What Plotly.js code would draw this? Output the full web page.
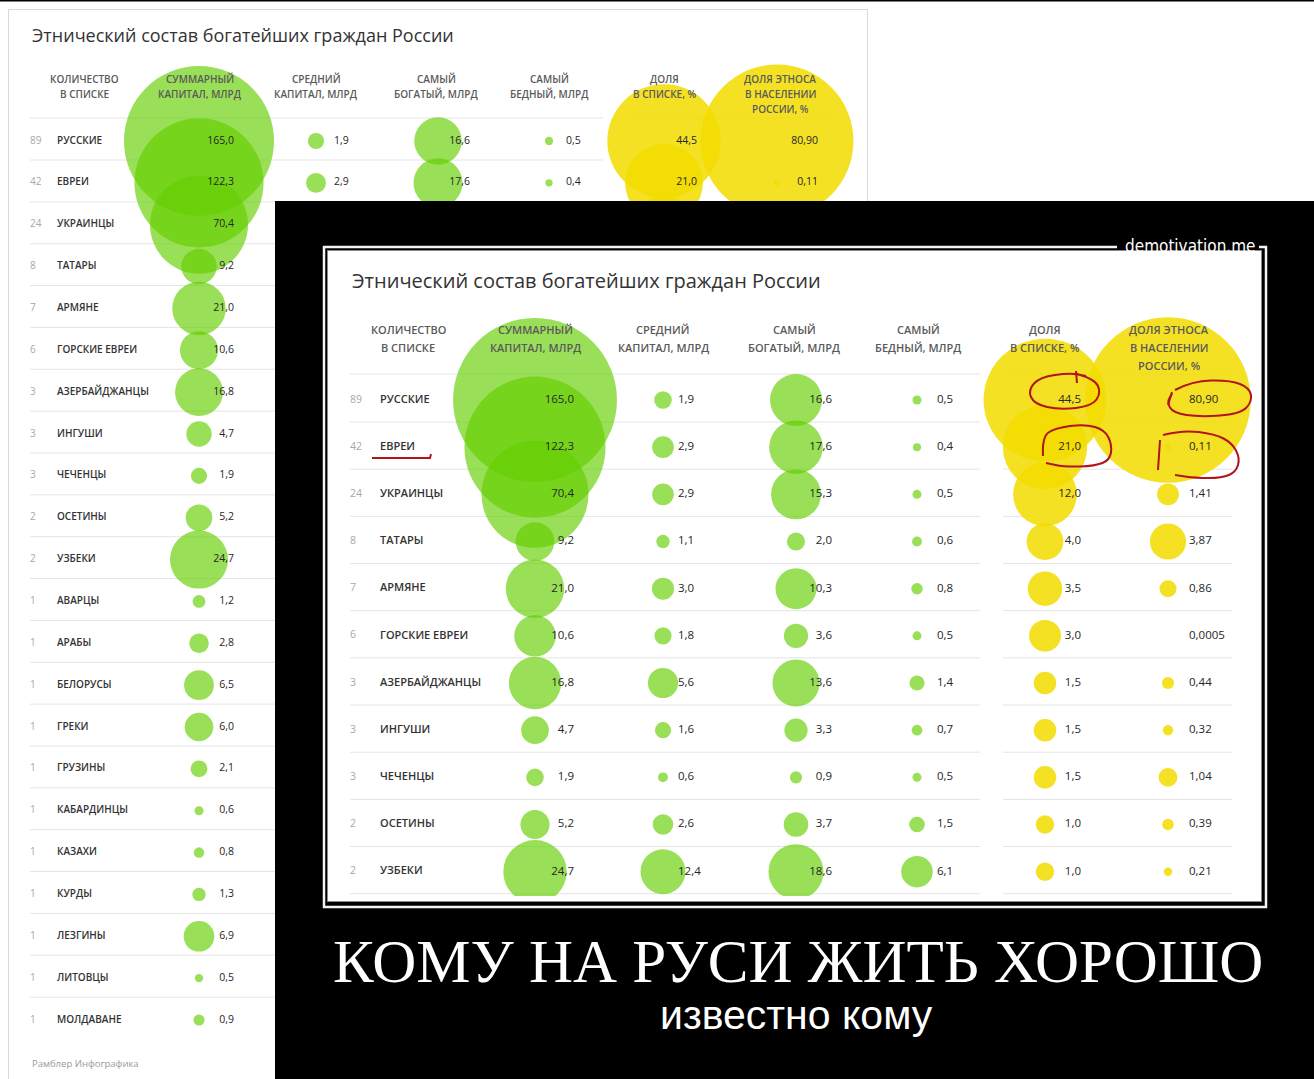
<!DOCTYPE html>
<html><head><meta charset="utf-8">
<script src="https://cdn.plot.ly/plotly-3.0.1.min.js"></script>
<style>
body{margin:0;background:#fff;}
#back,#front{position:absolute;left:0;top:0;width:1314px;height:1079px;}
</style>
</head><body>
<div id="back"></div><div id="front"></div>
<script>
// ---------- DATA ----------
const names = ['РУССКИЕ','ЕВРЕИ','УКРАИНЦЫ','ТАТАРЫ','АРМЯНЕ','ГОРСКИЕ ЕВРЕИ','АЗЕРБАЙДЖАНЦЫ','ИНГУШИ','ЧЕЧЕНЦЫ','ОСЕТИНЫ','УЗБЕКИ',
  'АВАРЦЫ','АРАБЫ','БЕЛОРУСЫ','ГРЕКИ','ГРУЗИНЫ','КАБАРДИНЦЫ','КАЗАХИ','КУРДЫ','ЛЕЗГИНЫ','ЛИТОВЦЫ','МОЛДАВАНЕ'];
const counts = [89,42,24,8,7,6,3,3,3,2,2,1,1,1,1,1,1,1,1,1,1,1];
const totalCapital = [165.0,122.3,70.4,9.2,21.0,10.6,16.8,4.7,1.9,5.2,24.7,1.2,2.8,6.5,6.0,2.1,0.6,0.8,1.3,6.9,0.5,0.9];
const avgCapital = [1.9,2.9,2.9,1.1,3.0,1.8,5.6,1.6,0.6,2.6,12.4];
const richest = [16.6,17.6,15.3,2.0,10.3,3.6,13.6,3.3,0.9,3.7,18.6];
const poorest = [0.5,0.4,0.5,0.6,0.8,0.5,1.4,0.7,0.5,1.5,6.1];
const shareList = [44.5,21.0,12.0,4.0,3.5,3.0,1.5,1.5,1.5,1.0,1.0];
const sharePopulation = [80.90,0.11,1.41,3.87,0.86,0.0005,0.44,0.32,1.04,0.39,0.21];
const headers = ['КОЛИЧЕСТВО<br>В СПИСКЕ','СУММАРНЫЙ<br>КАПИТАЛ, МЛРД','СРЕДНИЙ<br>КАПИТАЛ, МЛРД','САМЫЙ<br>БОГАТЫЙ, МЛРД',
  'САМЫЙ<br>БЕДНЫЙ, МЛРД','ДОЛЯ<br>В СПИСКЕ, %','ДОЛЯ ЭТНОСА<br>В НАСЕЛЕНИИ<br>РОССИИ, %'];
const titleText = 'Этнический состав богатейших граждан России';
const sourceText = 'Рамблер Инфографика';
const posterTitle = 'КОМУ НА РУСИ ЖИТЬ ХОРОШО';
const posterSubtitle = 'известно кому';
const watermark = 'demotivation.me';

// ---------- STYLE ----------
const GREEN = 'rgba(100,206,0,0.66)';
const YELLOW = 'rgba(242,220,0,0.86)';
const FONT = '"Open Sans", "Noto Sans", sans-serif';
const fmt1 = v => v.toFixed(1).replace('.', ',');
const fmtPop = v => v.toFixed(v < 0.01 ? 4 : 2).replace('.', ',');

function smooth(pts, px, py){
  const P = pts.map(p => [px(p[0]), py(p[1])]);
  let d = 'M' + P[0][0] + ',' + P[0][1];
  for (let i = 1; i < P.length - 1; i++){
    const mx = (P[i][0] + P[i+1][0]) / 2, my = (P[i][1] + P[i+1][1]) / 2;
    d += ' Q' + P[i][0] + ',' + P[i][1] + ' ' + mx + ',' + my;
  }
  const l = P[P.length-1];
  return d + ' L' + l[0] + ',' + l[1];
}

function build(c){
  const m = c.margin;
  const L = m.l, T = m.t, W = 1314 - m.l - m.r, H = 1079 - m.t - m.b;
  const px = x => (x - L) / W, py = y => 1 - (y - T) / H;
  const yIdx = y => (y - c.row0) / c.step;
  const traces = [], annotations = [], shapes = [];

  c.cols.forEach(col => {
    const ys = c.names.slice(0, col.vals.length);
    traces.push({type:'scatter', mode:'markers', x: ys.map(() => col.cx), y: ys,
      marker:{size: col.vals.map(v => 2 * col.k * Math.sqrt(v)), color: col.color, opacity:1, line:{width:0}},
      hoverinfo:'skip', cliponaxis:true});
  });
  const txt = (xv, ys, text, pos, font) => traces.push({type:'scatter', mode:'text', x: ys.map(() => xv), y: ys,
    text: text, textposition: pos, textfont: font, hoverinfo:'skip', cliponaxis:false});
  const nRows = c.names.length;
  txt(c.countX, c.names, c.counts.slice(0, nRows).map(String), 'middle right', {family:FONT, size:c.countSize, color:'#a8a8a8'});
  txt(c.nameX, c.names, c.names, 'middle right', {family:FONT, size:c.nameSize, color:'#333333', weight:600});
  c.cols.forEach(col => {
    const ys = c.names.slice(0, col.vals.length);
    txt(col.tx, ys, col.vals.map(col.fmt), col.side === 'end' ? 'middle left' : 'middle right',
      {family:FONT, size:c.valSize, color:'#262626'});
  });

  annotations.push({text:titleText, xref:'paper', yref:'paper', x:px(c.titleX), y:py(c.titleY), xanchor:'left', yanchor:'middle',
    showarrow:false, font:{family:FONT, size:c.titleSize, color:'#333'}});
  headers.forEach((h, i) => {
    h.split('<br>').forEach((line, j) => {
      annotations.push({text:line, xref:'paper', yref:'paper', x:px(c.headerX[i]), y:py(c.headerY[j]), xanchor:'center', yanchor:'middle',
        showarrow:false, borderpad:0, font:{family:FONT, size:c.headSize, color:'#5a5a5a', weight:600}});
    });
  });
  const lineYs = [yIdx(c.headerLine)];
  for (let i = 0; i < c.nLines; i++) lineYs.push(i + c.lineOff / c.step);
  lineYs.forEach(yv => c.segments.forEach(s => shapes.push({type:'line', xref:'x', yref:'y', x0:s[0], x1:s[1], y0:yv, y1:yv,
    layer:'below', line:{color:'#e4e4e4', width:1}})));

  const layout = {width:1314, height:1079, margin:{l:m.l, r:m.r, t:m.t, b:m.b, pad:0}, showlegend:false,
    paper_bgcolor: c.paper, plot_bgcolor:'rgba(0,0,0,0)',
    xaxis:{type:'linear', range:[L, L + W], visible:false, fixedrange:true},
    yaxis:{type:'category', categoryorder:'array', categoryarray:c.names, range:[(T + H - c.row0) / c.step, (T - c.row0) / c.step],
      visible:false, fixedrange:true},
    annotations: annotations, shapes: shapes};
  return {traces, layout, px, py};
}

// ---------- BACK CHART (only the rows left uncovered by the poster) ----------
const shown = 3;
const back = build({
  margin:{l:0, r:0, t:0, b:0}, paper:'#ffffff',
  names: names, counts: counts, row0:141, step:41.857,
  countX:30, nameX:57, countSize:10, nameSize:10, valSize:10.5,
  titleX:30, titleY:35, titleSize:18, headSize:10,
  headerX:[84,200,316,436,549,664,780], headerY:[79,94,109],
  headerLine:118, lineOff:19, nLines:21, segments:[[30,603],[625,835]],
  cols:[
    {vals:totalCapital, cx:199, k:5.84, color:GREEN, tx:234, side:'end', fmt:fmt1},
    {vals:avgCapital.slice(0, shown), cx:316, k:5.84, color:GREEN, tx:334, side:'start', fmt:fmt1},
    {vals:richest.slice(0, shown), cx:438, k:5.84, color:GREEN, tx:470, side:'end', fmt:fmt1},
    {vals:poorest.slice(0, shown), cx:549, k:5.84, color:GREEN, tx:566, side:'start', fmt:fmt1},
    {vals:shareList.slice(0, shown), cx:664, k:8.5, color:YELLOW, tx:697, side:'end', fmt:fmt1},
    {vals:sharePopulation.slice(0, shown), cx:777, k:8.5, color:YELLOW, tx:818, side:'end', fmt:fmtPop}
  ]
});
{
  const px = back.px, py = back.py, lay = back.layout;
  lay.shapes.push({type:'line', xref:'paper', yref:'paper', x0:0, x1:1, y0:py(0.5), y1:py(0.5), line:{color:'#000', width:2}, layer:'above'});
  lay.shapes.push({type:'rect', xref:'paper', yref:'paper', x0:px(8.5), x1:px(867.5), y0:py(9.5), y1:py(1090), line:{color:'#d8d8d8', width:1}, layer:'below'});
  lay.annotations.push({text:sourceText, xref:'paper', yref:'paper', x:px(30), y:py(1063), xanchor:'left', yanchor:'middle', showarrow:false,
    font:{family:FONT, size:9.5, color:'#9a9a9a'}});
}
Plotly.newPlot('back', back.traces, back.layout, {staticPlot:true, displayModeBar:false});

// ---------- FRONT (POSTER) ----------
const front = build({
  margin:{l:328, r:53, t:251, b:183}, paper:'rgba(0,0,0,0)',
  names: names.slice(0, 11), counts: counts, row0:400, step:47.17,
  countX:350, nameX:380, countSize:10.5, nameSize:11, valSize:11.5,
  titleX:350, titleY:280, titleSize:20, headSize:11,
  headerX:[408,535,663,794,918,1045,1169], headerY:[329,347,365],
  headerLine:374, lineOff:22, nLines:11, segments:[[350,980],[1003,1232]],
  cols:[
    {vals:totalCapital.slice(0, 11), cx:535, k:6.38, color:GREEN, tx:574, side:'end', fmt:fmt1},
    {vals:avgCapital, cx:663, k:6.38, color:GREEN, tx:678, side:'start', fmt:fmt1},
    {vals:richest, cx:796, k:6.38, color:GREEN, tx:832, side:'end', fmt:fmt1},
    {vals:poorest, cx:917, k:6.38, color:GREEN, tx:937, side:'start', fmt:fmt1},
    {vals:shareList, cx:1045, k:9.2, color:YELLOW, tx:1081, side:'end', fmt:fmt1},
    {vals:sharePopulation, cx:1168, k:9.2, color:YELLOW, tx:1189, side:'start', fmt:fmtPop}
  ]
});
{
  const px = front.px, py = front.py, lay = front.layout;
  const pre = [
    {type:'rect', xref:'paper', yref:'paper', x0:px(275), x1:px(1314), y0:py(201), y1:py(1079), fillcolor:'#000', line:{width:0}, layer:'below'},
    {type:'rect', xref:'paper', yref:'paper', x0:px(324), x1:px(1266), y0:py(247), y1:py(907), line:{color:'#f4f4f4', width:2.5}, layer:'below'},
    {type:'rect', xref:'paper', yref:'paper', x0:px(327), x1:px(1262), y0:py(250), y1:py(902), fillcolor:'#8a8a8a', line:{width:0}, layer:'below'},
    {type:'rect', xref:'paper', yref:'paper', x0:px(328), x1:px(1261), y0:py(251), y1:py(901), fillcolor:'#ffffff', line:{width:0}, layer:'below'},
    {type:'rect', xref:'paper', yref:'paper', x0:px(1117), x1:px(1259), y0:py(238), y1:py(250), fillcolor:'#000', line:{width:0}, layer:'below'}
  ];
  lay.shapes = pre.concat(lay.shapes);
  const RED = '#b3141c';
  const red = pts => lay.shapes.push({type:'path', xref:'paper', yref:'paper', path:smooth(pts, px, py), line:{color:RED, width:2}, layer:'above'});
  red([[1076,371],[1077,383]]);
  red([[1077,374],[1095,379],[1101,393],[1092,406],[1060,410],[1034,404],[1028,390],[1040,377],[1070,373],[1086,376]]);
  red([[1172,392],[1168,405]]);
  red([[1175,390],[1192,381],[1230,380],[1250,388],[1252,402],[1240,414],[1200,417],[1173,413],[1167,402],[1172,394]]);
  red([[1043,456],[1042,437],[1055,428],[1085,424],[1105,430],[1112,445],[1110,460],[1095,466],[1065,467],[1046,463]]);
  red([[1160,440],[1158,470]]);
  red([[1163,435],[1182,430],[1215,434],[1232,443],[1240,458],[1236,472],[1222,478],[1195,478],[1175,475]]);
  lay.shapes.push({type:'path', xref:'paper', yref:'paper', path:'M'+px(372)+','+py(458)+' L'+px(430)+','+py(458)+' L'+px(431)+','+py(454),
    line:{color:RED, width:2}, layer:'above'});
  lay.annotations.push({text:watermark, xref:'paper', yref:'paper', x:px(1190), y:py(246), xanchor:'center', yanchor:'middle', showarrow:false,
    font:{family:'"DejaVu Sans Condensed", "DejaVu Sans", sans-serif', size:17, color:'#ffffff'}});
  lay.annotations.push({text:posterTitle, xref:'paper', yref:'paper', x:px(798), y:py(961), xanchor:'center', yanchor:'middle', showarrow:false,
    font:{family:'"Liberation Serif", "Times New Roman", serif', size:61, color:'#ffffff'}});
  lay.annotations.push({text:posterSubtitle, xref:'paper', yref:'paper', x:px(796), y:py(1015), xanchor:'center', yanchor:'middle', showarrow:false,
    font:{family:'"Liberation Sans", Arial, sans-serif', size:41, color:'#ffffff'}});
}
Plotly.newPlot('front', front.traces, front.layout, {staticPlot:true, displayModeBar:false});
</script>
</body></html>
